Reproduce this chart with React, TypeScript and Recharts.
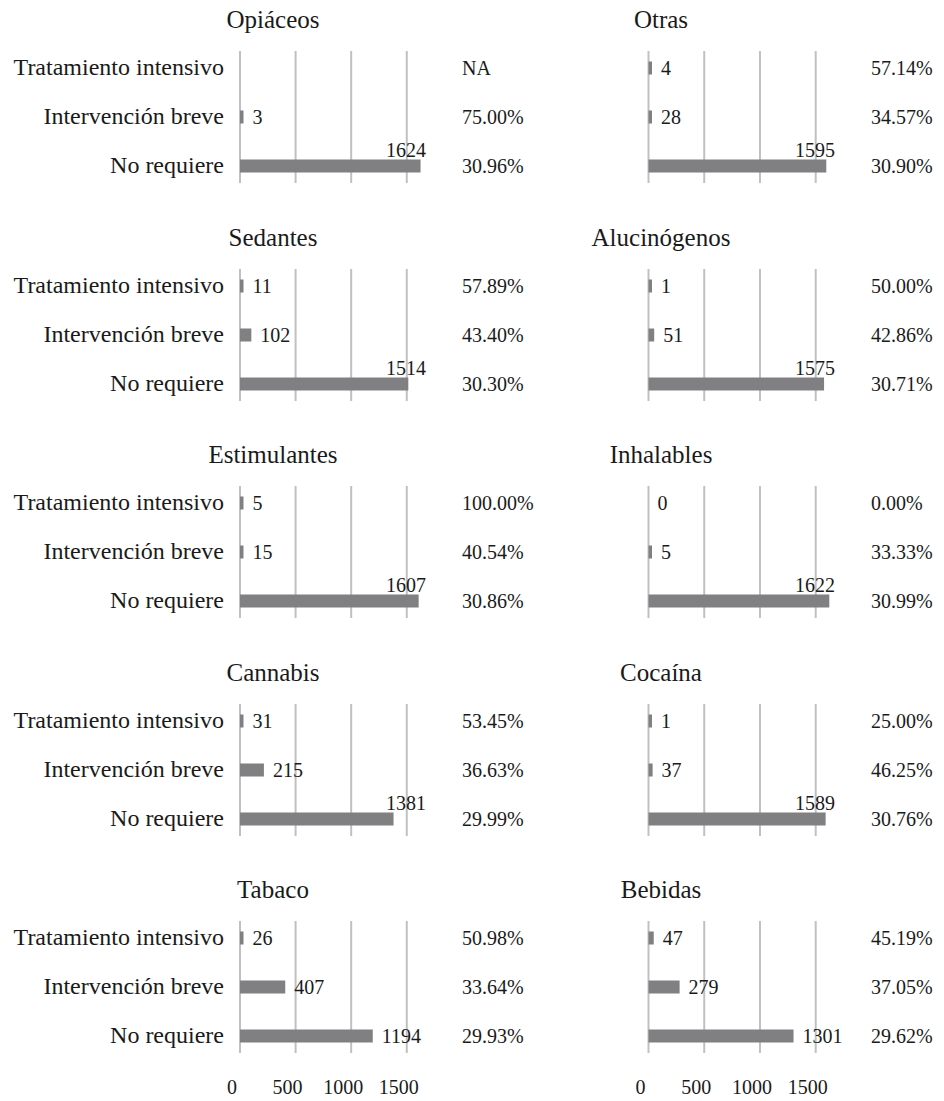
import { BarChart, Bar, XAxis, YAxis, CartesianGrid, LabelList } from "recharts";

const categories = ["Tratamiento intensivo", "Intervención breve", "No requiere"];
const axisTicks = [0, 500, 1000, 1500];

const opiaceosValues = [null, 3, 1624];
const opiaceosPct = ["NA", "75.00%", "30.96%"];
const otrasValues = [4, 28, 1595];
const otrasPct = ["57.14%", "34.57%", "30.90%"];
const sedantesValues = [11, 102, 1514];
const sedantesPct = ["57.89%", "43.40%", "30.30%"];
const alucinogenosValues = [1, 51, 1575];
const alucinogenosPct = ["50.00%", "42.86%", "30.71%"];
const estimulantesValues = [5, 15, 1607];
const estimulantesPct = ["100.00%", "40.54%", "30.86%"];
const inhalablesValues = [0, 5, 1622];
const inhalablesPct = ["0.00%", "33.33%", "30.99%"];
const cannabisValues = [31, 215, 1381];
const cannabisPct = ["53.45%", "36.63%", "29.99%"];
const cocainaValues = [1, 37, 1589];
const cocainaPct = ["25.00%", "46.25%", "30.76%"];
const tabacoValues = [26, 407, 1194];
const tabacoPct = ["50.98%", "33.64%", "29.93%"];
const bebidasValues = [47, 279, 1301];
const bebidasPct = ["45.19%", "37.05%", "29.62%"];

const panels = [
  { title: "Opiáceos", values: opiaceosValues, pcts: opiaceosPct },
  { title: "Otras", values: otrasValues, pcts: otrasPct },
  { title: "Sedantes", values: sedantesValues, pcts: sedantesPct },
  { title: "Alucinógenos", values: alucinogenosValues, pcts: alucinogenosPct },
  { title: "Estimulantes", values: estimulantesValues, pcts: estimulantesPct },
  { title: "Inhalables", values: inhalablesValues, pcts: inhalablesPct },
  { title: "Cannabis", values: cannabisValues, pcts: cannabisPct },
  { title: "Cocaína", values: cocainaValues, pcts: cocainaPct },
  { title: "Tabaco", values: tabacoValues, pcts: tabacoPct },
  { title: "Bebidas", values: bebidasValues, pcts: bebidasPct },
];

const TEXT = "#1a1a1a";
const BAR = "#808083";
const GRID = "#c0c0c0";
const ROW_PITCH = 217.6;
const PLOT_H = 132;
const AXIS_H = 50;

// column geometry (page px)
const COLS = [
  { left: 0, width: 540, axisW: 240, plotW: 189, titleX: 273, showCat: true },
  { left: 540, width: 404, axisW: 108.5, plotW: 189.5, titleX: 661, showCat: false },
];

function MinBar(props: any) {
  const { x, y, width, height, payload } = props;
  if (!payload || !payload.v) return null;
  return <rect x={x} y={y} width={Math.max(width, 3.5)} height={height} fill={BAR} />;
}

function ValueLabel(props: any) {
  const { x, y, width, height, value, plotRight } = props;
  if (value === null || value === undefined) return null;
  const text = String(value);
  const end = x + (value > 0 ? Math.max(width, 3.5) : 0);
  const textW = text.length * 10;
  // labels that would run past the plot edge sit above the bar, like Excel does
  if (end + 9 + textW > plotRight + 8) {
    return (
      <text x={plotRight - 3} y={y - 3} textAnchor="end" fontSize={20} fill={TEXT}>
        {text}
      </text>
    );
  }
  return (
    <text x={end + 9} y={y + height / 2} dy="0.35em" textAnchor="start" fontSize={20} fill={TEXT}>
      {text}
    </text>
  );
}

function CatTick(props: any) {
  const { x, y, payload, showCat, pcts, pctDx } = props;
  const i = categories.indexOf(payload.value);
  return (
    <g>
      {showCat && (
        <text x={x} y={y} dy="0.3em" textAnchor="end" fontSize={24} fill={TEXT}>
          {payload.value}
        </text>
      )}
      <text x={x + pctDx} y={y} dy="0.35em" textAnchor="start" fontSize={20} fill={TEXT}>
        {pcts[i]}
      </text>
    </g>
  );
}

function Panel({ index, title, values, pcts }: any) {
  const row = Math.floor(index / 2);
  const col = COLS[index % 2];
  const isBottom = row === 4;
  const data = categories.map((cat, i) => ({ cat, v: values[i] }));
  const plotTop = 51 + row * ROW_PITCH;
  const mt = 12;
  const mb = isBottom ? 0 : 12;
  const height = mt + PLOT_H + mb + (isBottom ? AXIS_H : 0);
  const plotRight = col.axisW + col.plotW;
  const titleBase = 28 + row * ROW_PITCH;

  return (
    <>
      <div
        style={{
          position: "absolute",
          left: col.titleX - 150,
          top: titleBase - 20,
          width: 300,
          textAlign: "center",
          fontSize: 25,
          lineHeight: "24px",
          color: TEXT,
        }}
      >
        {title}
      </div>
      <div style={{ position: "absolute", left: col.left, top: plotTop - mt }}>
        <BarChart
          width={col.width}
          height={height}
          data={data}
          layout="vertical"
          margin={{ top: mt, right: col.width - plotRight, bottom: mb, left: 0 }}
          barSize={13}
        >
          <CartesianGrid horizontal={false} verticalValues={axisTicks} stroke={GRID} strokeWidth={2} />
          <XAxis
            type="number"
            domain={[0, 1700]}
            ticks={axisTicks}
            interval={0}
            hide={!isBottom}
            height={AXIS_H}
            axisLine={false}
            tickLine={false}
            tickSize={0}
            tickMargin={27}
            tick={{ fontSize: 20, fill: TEXT, dx: -8 }}
          />
          <YAxis
            type="category"
            dataKey="cat"
            width={col.axisW}
            interval={0}
            axisLine={false}
            tickLine={false}
            tickSize={0}
            tickMargin={16}
            padding={{ top: -7.5, bottom: -7.5 }}
            tick={(p: any) => (
              <CatTick {...p} showCat={col.showCat} pcts={pcts} pctDx={16 + col.plotW + 33} />
            )}
          />
          <Bar dataKey="v" fill={BAR} isAnimationActive={false} shape={MinBar}>
            <LabelList dataKey="v" content={(p: any) => <ValueLabel {...p} plotRight={plotRight} />} />
          </Bar>
        </BarChart>
      </div>
    </>
  );
}

export default function App() {
  return (
    <div
      style={{
        position: "absolute",
        left: 0,
        top: 0,
        width: 944,
        height: 1101,
        background: "#fff",
        fontFamily: '"Liberation Serif", serif',
      }}
    >
      {panels.map((p, i) => (
        <Panel key={p.title} index={i} {...p} />
      ))}
    </div>
  );
}
